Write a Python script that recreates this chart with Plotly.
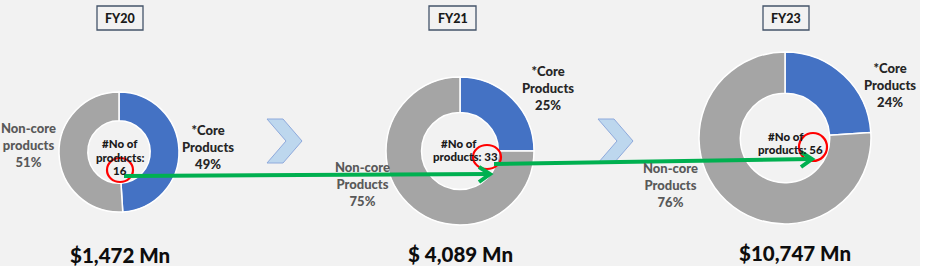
import plotly.graph_objects as go

# ---------------- data ----------------
years = ["FY20", "FY21", "FY23"]
segments = ["*Core Products", "Non-core Products"]
core_pct = [49, 25, 24]
noncore_pct = [51, 75, 76]
num_products = [16, 33, 56]
revenue_mn = [1472, 4089, 10747]
revenue_labels = ["$1,472 Mn", "$ 4,089 Mn", "$10,747 Mn"]
noncore_names = ["Non-core<br>products", "Non-core<br>Products", "Non-core<br>Products"]
core_names = ["*Core<br>Products", "*Core<br>Products", "*Core<br>Products"]

# ---------------- layout geometry (pixels) ----------------
W, H = 925, 271
centers = [(119, 152), (460, 151), (785, 138)]
radii = [60, 74, 86]
hole = 0.52
core_lab_pos = [(208, 147), (548, 88), (890, 85)]
noncore_lab_pos = [(28, 145), (362, 184), (670, 185)]
center_txt_pos = [[(120, 143), (120, 157), (120, 170)],
                  [(459, 143), (465, 156)],
                  [(786, 136), (790, 149)]]
circle_pos = [(120, 170, 13, 12), (487, 157, 14, 12), (813, 147, 14, 14)]
fy_box_x = [(97, 143), (429, 476), (763, 809)]
rev_pos = [(120, 255), (460, 254), (795, 253)]
chevron_x = [267, 598]
arrows = [((124, 176), (490, 174)), ((494, 164), (812, 159))]

BLUE = "#4472C4"
GRAY = "#A5A5A5"
FONT = "Lato"
WT = 900

fig = go.Figure()

for i, yr in enumerate(years):
    cx, cy = centers[i]
    r = radii[i]
    fig.add_trace(go.Pie(
        labels=segments,
        values=[core_pct[i], noncore_pct[i]],
        hole=hole,
        sort=False,
        direction="clockwise",
        rotation=0,
        textinfo="none",
        hoverinfo="label+percent",
        marker=dict(colors=[BLUE, GRAY], line=dict(color="white", width=1.5)),
        domain=dict(x=[(cx - r) / W, (cx + r) / W], y=[(H - cy - r) / H, (H - cy + r) / H]),
        showlegend=False,
        name=yr,
    ))

shapes = []
annotations = []

# background
shapes.append(dict(type="rect", xref="x", yref="y", x0=0, x1=920, y0=0, y1=266,
                   fillcolor="#F2F2F2", line=dict(width=0), layer="below"))

for i, yr in enumerate(years):
    # FY box
    x0, x1 = fy_box_x[i]
    shapes.append(dict(type="rect", xref="x", yref="y", x0=x0, x1=x1, y0=6, y1=30,
                       fillcolor="#F2F2F2", line=dict(color="#44546A", width=1.3), layer="above"))
    annotations.append(dict(x=(x0 + x1) / 2, y=18.5, xref="x", yref="y", text=yr,
                            showarrow=False, font=dict(family=FONT, size=12.5, color="#1a1a1a", weight=WT)))
    # segment labels
    cxl, cyl = core_lab_pos[i]
    annotations.append(dict(x=cxl, y=cyl, xref="x", yref="y",
                            text=f"{core_names[i]}<br>{core_pct[i]}%",
                            showarrow=False, align="center",
                            font=dict(family=FONT, size=13, color="#262626", weight=WT)))
    nxl, nyl = noncore_lab_pos[i]
    annotations.append(dict(x=nxl, y=nyl, xref="x", yref="y",
                            text=f"{noncore_names[i]}<br>{noncore_pct[i]}%",
                            showarrow=False, align="center",
                            font=dict(family=FONT, size=13, color="#595959", weight=WT)))
    # center text
    if i == 0:
        lines = ["#No of", "products:", f"{num_products[i]}"]
    else:
        lines = ["#No of", f"products: {num_products[i]}"]
    for (tx, ty), ln in zip(center_txt_pos[i], lines):
        annotations.append(dict(x=tx, y=ty, xref="x", yref="y", text=ln,
                                showarrow=False, font=dict(family=FONT, size=11.5, color="#1a1a1a", weight=WT)))
    # revenue
    rx, ry = rev_pos[i]
    annotations.append(dict(x=rx, y=ry, xref="x", yref="y", text=revenue_labels[i],
                            showarrow=False, font=dict(family=FONT, size=20.5, color="#0d0d0d", weight=WT)))
    # red circle
    ccx, ccy, rrx, rry = circle_pos[i]
    shapes.append(dict(type="circle", xref="x", yref="y", x0=ccx - rrx, x1=ccx + rrx,
                       y0=ccy - rry, y1=ccy + rry, line=dict(color="#FF0000", width=2.2),
                       fillcolor="rgba(0,0,0,0)", layer="above"))

# chevrons
for x in chevron_x:
    path = (f"M{x},119 L{x+16},119 L{x+35},141 L{x+16},163 L{x},163 L{x+19},141 Z")
    shapes.append(dict(type="path", xref="x", yref="y", path=path,
                       fillcolor="#BDD7EE", line=dict(color="#8FAADC", width=1), layer="above"))

# green arrows
for (sx, sy), (ex, ey) in arrows:
    shapes.append(dict(type="line", xref="x", yref="y", x0=sx, y0=sy, x1=ex, y1=ey,
                       line=dict(color="#00B050", width=4), layer="above"))
    head = f"M{ex-11},{ey-7} L{ex},{ey} L{ex-11},{ey+8}"
    shapes.append(dict(type="path", xref="x", yref="y", path=head,
                       line=dict(color="#00B050", width=4), layer="above"))

fig.update_layout(
    width=W, height=H,
    margin=dict(l=0, r=0, t=0, b=0),
    paper_bgcolor="white",
    plot_bgcolor="rgba(0,0,0,0)",
    xaxis=dict(range=[0, W], visible=False, domain=[0, 1], fixedrange=True),
    yaxis=dict(range=[H, 0], visible=False, domain=[0, 1], fixedrange=True),
    shapes=shapes,
    annotations=annotations,
    showlegend=False,
)

fig.write_html("out.html")
